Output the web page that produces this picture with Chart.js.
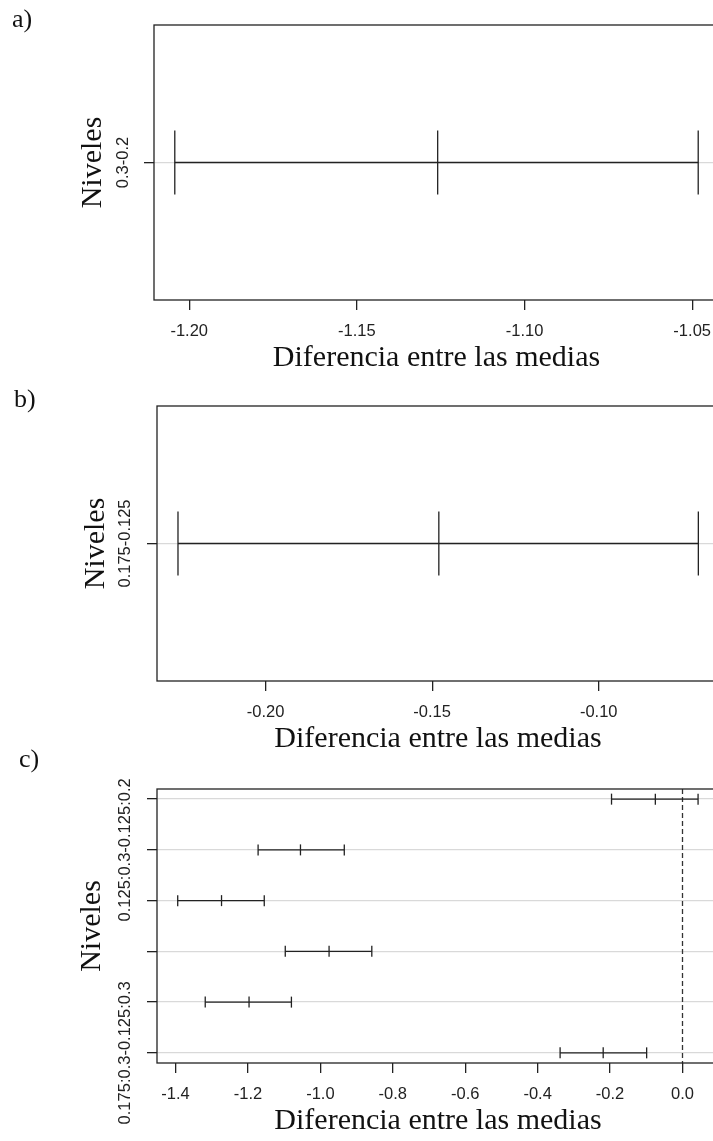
<!DOCTYPE html>
<html>
<head>
<meta charset="utf-8">
<script src="https://cdn.jsdelivr.net/npm/chart.js@4.4.1/dist/chart.umd.min.js"></script>
<style>
  html, body { margin: 0; padding: 0; background: #fff; overflow: hidden; }
  body { width: 713px; height: 1141px; position: relative; }
  .panel { position: absolute; left: 0; width: 740px; }
  .panel canvas { display: block; }
  .tag { position: absolute; z-index: 2; font-family: "Liberation Serif", serif; font-size: 26px; line-height: 26px; color: #111; }
</style>
</head>
<body>
<div class="panel" style="top:0px;height:376px"><canvas id="chartA" width="740" height="376"></canvas></div>
<div class="panel" style="top:381px;height:376px"><canvas id="chartB" width="740" height="376"></canvas></div>
<div class="panel" style="top:764px;height:375px"><canvas id="chartC" width="740" height="375"></canvas></div>
<div class="tag" style="left:12px;top:6px">a)</div>
<div class="tag" style="left:14px;top:386px">b)</div>
<div class="tag" style="left:19px;top:746px">c)</div>

<script>
// a) 0.3 vs 0.2
const levelsA = ['0.3-0.2'];
const lowerA = [-1.2043];
const diffA = [-1.1259];
const upperA = [-1.0482];
const ticksA = [-1.20, -1.15, -1.10, -1.05];
const rangeA = [-1.2105, -1.0420];

// b) 0.175 vs 0.125
const levelsB = ['0.175-0.125'];
const lowerB = [-0.2263];
const diffB = [-0.1480];
const upperB = [-0.0701];
const ticksB = [-0.20, -0.15, -0.10];
const rangeB = [-0.2326, -0.0639];

// c) interaction, top row first
const levelsC = [
    '0.175:0.2-0.125:0.2',
    '0.125:0.3-0.125:0.2',
    '0.175:0.3-0.125:0.2',
    '0.125:0.3-0.175:0.2',
    '0.175:0.3-0.175:0.2',
    '0.175:0.3-0.125:0.3'
];
const lowerC = [-0.196, -1.172, -1.394, -1.097, -1.318, -0.338];
const diffC = [-0.075, -1.055, -1.273, -0.976, -1.197, -0.219];
const upperC = [0.043, -0.934, -1.155, -0.858, -1.080, -0.099];
const shownC = [1, 5];   // R drops the overlapping labels
const ticksC = [-1.4, -1.2, -1.0, -0.8, -0.6, -0.4, -0.2, 0.0];
const rangeC = [-1.4512, 0.1008];

const INK = '#222';

// box round the plot and the rotated level names
const framePlugin = {
    id: 'frame',
    afterDatasetsDraw(chart, args, opts) {
        const { ctx, chartArea: a } = chart;
        const y = chart.scales.y;
        ctx.save();
        ctx.strokeStyle = INK;
        ctx.lineWidth = 1.3;
        ctx.strokeRect(a.left, a.top, a.right - a.left, a.bottom - a.top);
        ctx.font = '16.5px "Liberation Sans", Arial, sans-serif';
        ctx.fillStyle = INK;
        ctx.textAlign = 'center';
        ctx.textBaseline = 'middle';
        opts.shown.forEach(i => {
            ctx.save();
            ctx.translate(a.left - opts.labelGap, y.getPixelForValue(i + 1));
            ctx.rotate(-Math.PI / 2);
            ctx.fillText(opts.labels[i], 0, 0);
            ctx.restore();
        });
        ctx.restore();
    }
};

function makePanel(id, p) {
    const datasets = p.levels.map((lab, i) => ({
        label: lab,
        data: [
            { x: p.lower[i], y: i + 1 },
            { x: p.diff[i], y: i + 1 },
            { x: p.upper[i], y: i + 1 }
        ],
        showLine: true,
        borderColor: INK,
        borderWidth: 1.3,
        pointStyle: 'line',
        rotation: 90,
        pointRadius: p.cap,
        pointHoverRadius: p.cap,
        pointBorderColor: INK,
        pointBorderWidth: 1.3
    }));

    if (p.zeroLine) {
        datasets.push({
            label: 'cero',
            data: [{ x: 0, y: p.yRange[0] }, { x: 0, y: p.yRange[1] }],
            showLine: true,
            borderColor: '#333',
            borderWidth: 1.3,
            borderDash: [5, 3],
            pointRadius: 0
        });
    }

    new Chart(document.getElementById(id), {
        type: 'scatter',
        data: { datasets },
        plugins: [framePlugin],
        options: {
            responsive: false,
            animation: false,
            events: [],
            layout: { autoPadding: false, padding: { top: 25, right: 21, bottom: 0, left: 0 } },
            plugins: {
                legend: { display: false },
                tooltip: { enabled: false },
                frame: { labels: p.levels, shown: p.shown, labelGap: p.labelGap }
            },
            scales: {
                x: {
                    type: 'linear',
                    min: p.xRange[0],
                    max: p.xRange[1],
                    afterBuildTicks: s => { s.ticks = p.xTicks.map(v => ({ value: v })); },
                    afterFit: s => { s.height = 76; },
                    border: { display: false },
                    grid: { drawOnChartArea: false, tickLength: 10, tickColor: INK, lineWidth: 1.3 },
                    ticks: {
                        padding: 12,
                        color: INK,
                        font: { family: '"Liberation Sans", Arial, sans-serif', size: 16.5 },
                        callback: v => v.toFixed(p.digits)
                    },
                    title: {
                        display: true,
                        text: 'Diferencia entre las medias',
                        color: '#111',
                        font: { family: '"Liberation Serif", "Times New Roman", serif', size: 30 },
                        padding: { top: 0, bottom: 0 }
                    }
                },
                y: {
                    type: 'linear',
                    reverse: true,
                    min: p.yRange[0],
                    max: p.yRange[1],
                    afterBuildTicks: s => { s.ticks = p.levels.map((l, i) => ({ value: i + 1 })); },
                    afterFit: s => { s.width = p.left; },
                    border: { display: false },
                    grid: { color: '#d9d9d9', tickColor: INK, tickLength: 10, lineWidth: 1.3 },
                    ticks: { display: false },
                    title: {
                        display: true,
                        text: 'Niveles',
                        color: '#111',
                        font: { family: '"Liberation Serif", "Times New Roman", serif', size: 30 },
                        padding: { top: p.titleX - 18, bottom: 0 }
                    }
                }
            }
        }
    });
}

makePanel('chartA', {
    levels: levelsA, lower: lowerA, diff: diffA, upper: upperA, shown: [0],
    xTicks: ticksA, xRange: rangeA, yRange: [0, 2], digits: 2,
    cap: 32, left: 154, labelGap: 31, titleX: 93
});

makePanel('chartB', {
    levels: levelsB, lower: lowerB, diff: diffB, upper: upperB, shown: [0],
    xTicks: ticksB, xRange: rangeB, yRange: [0, 2], digits: 2,
    cap: 32, left: 157, labelGap: 32, titleX: 96
});

makePanel('chartC', {
    levels: levelsC, lower: lowerC, diff: diffC, upper: upperC, shown: shownC,
    xTicks: ticksC, xRange: rangeC, yRange: [0.8, 6.2], digits: 1,
    cap: 5.5, left: 157, labelGap: 32, titleX: 92, zeroLine: true
});
</script>
</body>
</html>
